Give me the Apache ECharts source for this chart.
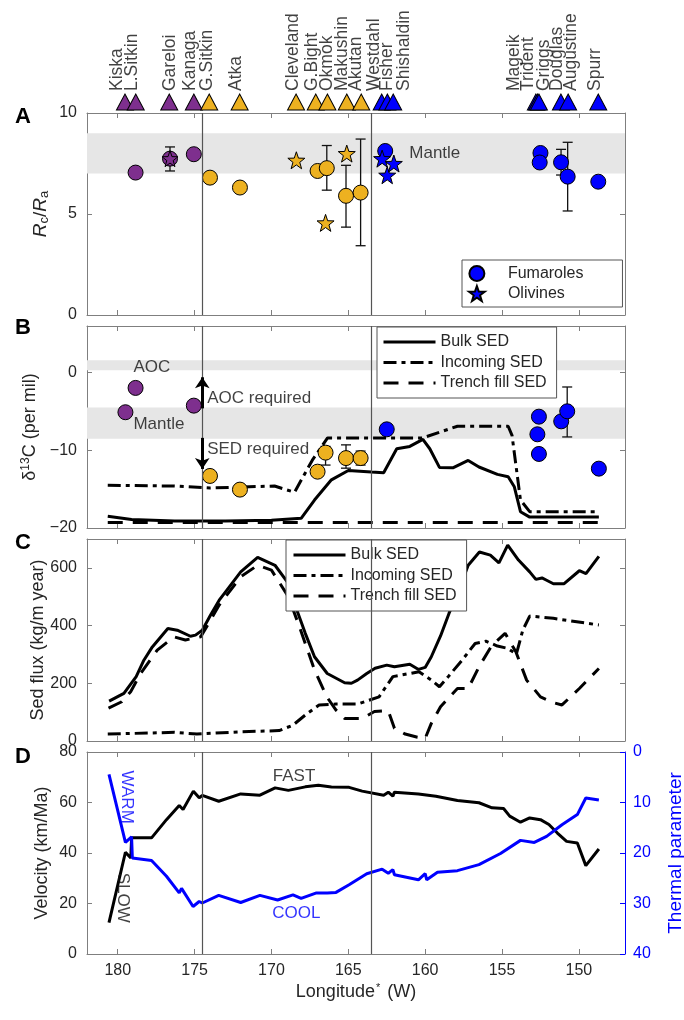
<!DOCTYPE html>
<html><head><meta charset="utf-8">
<script src="https://cdn.jsdelivr.net/npm/echarts@6/dist/echarts.min.js"></script>
<style>html,body{margin:0;padding:0;background:#fff}#c{width:684px;height:1020px}</style>
</head><body><div id="c"></div>
<script>
// ---------------- DATA ----------------
const xTicks = [150, 155, 160, 165, 170, 175, 180];
const dividerLon = [174.5, 163.5];

const volcanoNames = ['Kiska','L.Sitkin','Gareloi','Kanaga','G.Sitkin','Atka','Cleveland','G.Bight','Okmok','Makushin','Akutan','Westdahl','Fisher','Shishaldin','Mageik','Trident','Griggs','Douglas','Augustine','Spurr'];
const volcanoLon = [179.53,178.83,176.65,175.05,174.05,172.07,168.4,167.12,166.36,165.1,164.16,162.83,162.46,162.08,152.8,152.7,152.6,151.17,150.7,148.74];
const volcanoLabelLon = [180.02,179.05,176.56,175.27,174.18,172.24,168.57,167.31,166.36,165.39,164.46,163.27,162.41,161.32,154.19,153.28,152.24,151.38,150.45,148.94];
const volcanoGroup = ['W','W','W','W','C','C','C','C','C','C','C','E','E','E','E','E','E','E','E','E'];

// Panel A  (Rc/Ra)
const aPurpleCircles = [[178.84,7.05],[176.6,7.74],[175.05,7.96]];
const aPurpleStars = [[176.6,7.74]];
const aOrangeCircles = [[174.0,6.8],[172.05,6.31],[167.0,7.13],[166.4,7.27],[165.15,5.9],[164.2,6.06]];
const aOrangeStars = [[168.38,7.66],[166.48,4.56],[165.1,7.99]];
const aBlueCircles = [[162.6,8.12],[152.5,8.02],[152.55,7.55],[151.16,7.56],[150.73,6.85],[148.74,6.6]];
const aBlueStars = [[162.8,7.74],[162.47,6.92],[162.04,7.5]];
const aErrors = [[176.6,7.13,8.32],[166.4,6.18,8.39],[165.15,4.35,7.41],[164.2,3.43,8.71],[151.16,6.93,8.2],[150.73,5.15,8.55]];
const aBands = [[7,9]];
const aTexts = [['Mantle',161.0,7.99]];

// Panel B  (d13C)
const bPurpleCircles = [[178.84,-1.97],[179.5,-5.1],[175.05,-4.25]];
const bOrangeCircles = [[174.0,-13.3],[172.05,-15.06],[167.0,-12.75],[166.48,-10.3],[165.15,-11.0],[164.2,-11.0]];
const bBlueCircles = [[162.5,-7.3],[152.6,-5.67],[152.7,-7.94],[152.6,-10.47],[151.15,-6.27],[150.76,-4.98],[148.7,-12.36]];
const bErrors = [[166.48,-11.9,-9.5],[165.15,-12.3,-9.3],[164.2,-11.9,-10.1],[150.76,-8.28,-1.85]];
const bBands = [[0.3,1.6],[-8.5,-4.5]];
const bBulk = [[180.65,-18.5],[179.1,-18.9],[176.3,-19.1],[173,-19.1],[170,-19.0],[168.07,-18.75],[167.2,-16.4],[166.1,-13.8],[165.0,-12.6],[163.5,-12.8],[162.7,-12.9],[161.85,-9.8],[161.0,-9.5],[160.15,-8.6],[159.7,-9.8],[159.07,-12.2],[158.2,-12.25],[157.2,-11.3],[156.5,-12.15],[155.3,-13.1],[154.6,-13.4],[154.2,-14.7],[153.8,-17.9],[153.2,-18.6],[148.7,-18.6]];
const bIncoming = [[180.65,-14.5],[176.3,-14.6],[174.0,-14.85],[169.8,-14.6],[168.5,-15.4],[167.35,-11.3],[166.35,-8.4],[163.5,-8.4],[160.15,-8.4],[157.9,-6.9],[154.6,-6.9],[154.35,-8.07],[153.8,-16.4],[153.2,-17.9],[148.7,-17.9]];
const bTrench = [[180.65,-19.3],[148.7,-19.3]];
const bTexts = [['AOC',178.95,0.6],['Mantle',178.95,-6.7],['AOC required',174.15,-3.43],['SED required',174.15,-10.0]];
const bArrows = [[174.5,-4.6,-0.6],[174.5,-8.4,-12.4]];

// Panel C  (Sed flux)
const cBulk = [[180.56,138],[179.6,165],[178.8,223],[178.3,280],[177.75,326],[176.74,390],[176.13,384],[175.27,363],[174.94,367],[174.5,384],[173.97,436],[173.4,488],[172.9,523],[172.0,586],[170.9,636],[169.77,609],[168.9,546],[168.35,454],[167.8,373],[167.2,292],[166.37,234],[165.24,202],[164.8,200],[164.4,211],[163.8,234],[163.26,252],[162.5,263],[162.0,257],[161.0,266],[160.43,248],[160.0,255],[159.6,292],[159.0,364],[158.45,442],[157.9,511],[157.2,609],[156.47,655],[155.76,644],[155.2,617],[154.63,679],[153.93,627],[153.2,586],[152.8,560],[152.4,565],[152.1,557],[151.66,545],[150.96,545],[149.97,590],[149.54,580],[148.7,640]];
const cIncoming = [[180.65,24],[176.3,30],[174.85,24],[172.0,32],[169.5,36],[168.6,55],[167.8,90],[166.9,125],[165.8,128],[164.4,128],[163.0,153],[162.1,223],[161.0,234],[160.4,240],[159.6,211],[159.07,188],[158.5,223],[157.6,280],[156.75,338],[156.05,346],[155.3,329],[154.63,321],[154.07,301],[153.65,384],[153.2,433],[151.66,425],[148.7,402]];
const cTrench = [[180.6,114],[179.74,136],[179.16,171],[178.5,235],[177.43,315],[176.35,361],[175.6,350],[174.6,361],[173.4,471],[172.0,569],[170.9,609],[170.0,592],[168.9,500],[168.1,384],[167.2,246],[166.4,153],[165.8,107],[165.24,78],[164.1,78],[163.3,102],[162.4,105],[162.0,44],[161.3,24],[160.5,13],[160.0,9],[159.6,61],[159.0,119],[157.9,182],[157.2,182],[156.5,257],[155.65,332],[154.8,373],[154.1,309],[153.4,211],[152.5,153],[151.66,133],[151.1,125],[149.97,182],[148.7,251]];

// Panel D  (velocity / thermal parameter)
const dVelocity = [[180.57,12.4],[179.5,40.3],[179.15,38],[179.1,46],[177.8,46],[176.83,53.2],[176.0,58.8],[175.75,57.2],[175.08,64.5],[174.7,61.9],[174.5,62.8],[173.43,60.5],[172.0,63.4],[170.75,62.9],[169.76,65.8],[168.9,64.8],[167.8,66.2],[166.95,66.8],[166.1,66.1],[164.95,66.0],[164.1,64.5],[162.7,62.9],[162.4,64.1],[162.1,62.5],[162.0,64.1],[160.44,63.4],[159.3,62.5],[157.9,60.8],[156.5,59.9],[155.65,57.9],[154.9,57.6],[154.5,54.6],[153.8,52.2],[153.2,53.9],[152.5,53.2],[151.95,51.3],[151.4,47.9],[150.8,44.6],[150.1,44.0],[149.55,35.0],[148.7,41.6]];
const dThermal = [[180.57,4.44],[179.5,17.9],[179.1,16.8],[179.05,21.0],[177.8,21.5],[176.83,24.6],[176.0,27.9],[175.85,27.0],[175.1,30.6],[174.7,29.6],[174.5,29.9],[173.43,28.4],[172.0,29.8],[170.75,28.4],[169.6,29.3],[168.6,28.3],[168.07,29.0],[167.07,27.9],[166.37,27.9],[165.8,27.8],[164.95,26.3],[163.8,24.1],[162.8,23.2],[162.4,24.0],[162.1,23.3],[162.0,24.3],[160.44,25.3],[160.0,24.1],[159.9,25.3],[159.2,23.8],[157.9,23.5],[156.5,22.3],[155.1,20.1],[153.8,17.5],[152.9,17.9],[152.1,16.7],[151.1,14.4],[150.1,12.4],[149.55,9.1],[148.7,9.5]];
const dTextsBlack = [['FAST',168.5,70.1]];
const dTextsBlue = [['COOL',168.35,15.9]];
const dRotBlue = [['WARM',179.38,61.9]];
const dRotBlack = [['SLOW',179.66,22.1]];

// ---------------- CHART ----------------
const FONT = "'Liberation Sans', Arial, Helvetica, sans-serif";
const AX = '#7f7f7f', TXT = '#262626';
const PURPLE = '#7E2F8E', ORANGE = '#EDB120', BLUE = '#0000FF';
const GROUPCOL = {W: PURPLE, C: ORANGE, E: BLUE};
const STAR = 'path://M0,-10L2.35,-3.24L9.51,-3.09L3.8,1.24L5.88,8.09L0,4L-5.88,8.09L-3.8,1.24L-9.51,-3.09L-2.35,-3.24Z';
const tops = [113, 326, 539, 752];
const grids = tops.map(t => ({left: 87, width: 538, top: t, height: 202, outerBoundsMode: 'none', containLabel: false}));
grids.push({left: 87, width: 538, top: 60, height: 52, outerBoundsMode: 'none', containLabel: false});

const fmtMinus = v => v < 0 ? '\u2212' + Math.abs(v) : String(v);

function xAx(g, pos, labels) {
  const o = {
    type: 'value', gridIndex: g, position: pos, min: 147, max: 182, inverse: true,
    axisLine: {show: true, onZero: false, lineStyle: {color: AX, width: 1}},
    axisTick: {show: true, inside: true, length: 5, customValues: xTicks, lineStyle: {color: AX}},
    axisLabel: {show: labels, customValues: xTicks, fontSize: 16, color: TXT, fontFamily: FONT, margin: 9},
    splitLine: {show: false}
  };
  if (labels) {
    o.name = '{n|Longitude}{s|*}{n| (W)}';
    o.nameLocation = 'middle';
    o.nameGap = 28;
    o.nameTextStyle = {fontFamily: FONT, color: TXT, rich: {n: {fontSize: 18, fontFamily: FONT, color: TXT}, s: {fontSize: 11, fontFamily: FONT, color: TXT, padding: [0, 2, 10, 1]}}};
  }
  return o;
}
const xAxes = [];
for (let g = 0; g < 4; g++) { xAxes.push(xAx(g, 'bottom', g === 3)); xAxes.push(xAx(g, 'top', false)); }
xAxes.push({type: 'value', gridIndex: 4, min: 147, max: 182, inverse: true, show: false});

function yAx(g, pos, min, max, interval, o) {
  o = o || {};
  const col = o.color || AX;
  const a = {
    type: 'value', gridIndex: g, position: pos, min, max, interval, inverse: !!o.inverse,
    axisLine: {show: true, onZero: false, lineStyle: {color: col, width: 1}},
    axisTick: {show: true, inside: true, length: 5, lineStyle: {color: col}},
    axisLabel: {show: !!o.labels, fontSize: 16, color: o.labelColor || TXT, fontFamily: FONT, margin: o.margin || 10, formatter: fmtMinus, showMaxLabel: o.hideMax ? false : null},
    splitLine: {show: false}
  };
  if (o.name) {
    a.name = o.name; a.nameLocation = 'middle'; a.nameGap = o.nameGap; a.nameRotate = 90;
    a.nameMoveOverlap = false;
    a.nameTextStyle = Object.assign({fontSize: 18, fontFamily: FONT, color: o.labelColor || TXT}, o.nameStyle || {});
  }
  return a;
}
const yAxes = [
  yAx(0, 'left', 0, 10, 5, {labels: true, name: '{i|R}{s|c}{n|/}{i|R}{s|a}', nameGap: 36,
    nameStyle: {rich: {i: {fontSize: 19, fontStyle: 'italic', fontFamily: FONT, color: TXT}, n: {fontSize: 19, fontFamily: FONT, color: TXT}, s: {fontSize: 13, fontFamily: FONT, color: TXT, padding: [8, 0, 0, 0]}}}}),
  yAx(0, 'right', 0, 10, 5),
  yAx(1, 'left', -20, 6, 10, {labels: true, hideMax: true, name: '{n|\u03b4}{s|13}{n|C (per mil)}', nameGap: 46,
    nameStyle: {rich: {n: {fontSize: 18, fontFamily: FONT, color: TXT}, s: {fontSize: 12, fontFamily: FONT, color: TXT, padding: [0, 0, 9, 0]}}}}),
  yAx(1, 'right', -20, 6, 10),
  yAx(2, 'left', 0, 700, 200, {labels: true, hideMax: true, name: 'Sed flux (kg/m year)', nameGap: 40}),
  yAx(2, 'right', 0, 700, 200),
  yAx(3, 'left', 0, 80, 20, {labels: true, name: 'Velocity (km/Ma)', nameGap: 36}),
  yAx(3, 'right', 0, 40, 10, {labels: true, inverse: true, color: BLUE, labelColor: BLUE, margin: 8, name: 'Thermal parameter', nameGap: 41, nameStyle: {fontSize: 19}}),
  {type: 'value', gridIndex: 4, min: 0, max: 52, show: false}
];

const series = [];
const base = {animation: false, silent: true};

function deco(g, bands) {
  return Object.assign({type: 'line', xAxisIndex: 2 * g, yAxisIndex: 2 * g, data: [], z: 1,
    markArea: {silent: true, itemStyle: {color: '#e6e6e6'}, data: bands.map(b => [{yAxis: b[0]}, {yAxis: b[1]}])},
    markLine: {silent: true, symbol: 'none', label: {show: false}, lineStyle: {color: '#555', width: 1.2, type: 'solid'}, data: dividerLon.map(v => ({xAxis: v}))}
  }, base);
}
function sc(g, data, symbol, color, size, name) {
  return Object.assign({type: 'scatter', name: name || undefined, xAxisIndex: 2 * g, yAxisIndex: 2 * g, data, symbol, symbolSize: size,
    itemStyle: {color, borderColor: '#000', borderWidth: 1, opacity: 1}, z: symbol === 'circle' ? 4 : 5}, base);
}
function ln(g, name, data, type, color, yIdx) {
  return Object.assign({type: 'line', name, xAxisIndex: 2 * g, yAxisIndex: yIdx != null ? yIdx : 2 * g, data, symbol: 'none', showSymbol: false,
    lineStyle: {width: 3, color, type}, itemStyle: {color}, z: 3}, base);
}
function eb(g, data) {
  return Object.assign({type: 'custom', xAxisIndex: 2 * g, yAxisIndex: 2 * g, data, z: 3, encode: {x: 0, y: [1, 2]},
    renderItem: (p, api) => {
      const x = api.value(0), lo = api.value(1), hi = api.value(2);
      const a = api.coord([x, hi]), b = api.coord([x, lo]);
      const w = 5, st = {stroke: '#111', lineWidth: 1.3};
      return {type: 'group', children: [
        {type: 'line', shape: {x1: a[0], y1: a[1], x2: b[0], y2: b[1]}, style: st},
        {type: 'line', shape: {x1: a[0] - w, y1: a[1], x2: a[0] + w, y2: a[1]}, style: st},
        {type: 'line', shape: {x1: b[0] - w, y1: b[1], x2: b[0] + w, y2: b[1]}, style: st}
      ]};
    }}, base);
}
function tx(xi, yi, items, labelOpts) {
  return Object.assign({type: 'scatter', xAxisIndex: xi, yAxisIndex: yi, symbolSize: 1, itemStyle: {color: 'rgba(0,0,0,0)'}, z: 6,
    data: items.map(t => ({name: t[0], value: [t[1], t[2]]})),
    label: Object.assign({show: true, formatter: '{b}', position: [0, 0], align: 'left', verticalAlign: 'middle', fontSize: 17, fontFamily: FONT, color: '#111'}, labelOpts || {})
  }, base);
}

// volcano triangles and names
series.push(Object.assign({type: 'scatter', xAxisIndex: 8, yAxisIndex: 8, symbol: 'triangle', symbolSize: [17, 16], z: 4,
  data: volcanoLon.map((lon, i) => ({value: [lon, 10], itemStyle: {color: GROUPCOL[volcanoGroup[i]], borderColor: '#000', borderWidth: 1, opacity: 1}}))}, base));
series.push(tx(8, 8, volcanoNames.map((n, i) => [n, volcanoLabelLon[i], 20.5]), {rotate: 90, fontSize: 17.5}));

// Panel A
series.push(deco(0, aBands));
series.push(eb(0, aErrors));
series.push(sc(0, aPurpleCircles, 'circle', PURPLE, 15));
series.push(sc(0, aOrangeCircles, 'circle', ORANGE, 15));
series.push(sc(0, aBlueCircles, 'circle', BLUE, 15, 'Fumaroles'));
series.push(sc(0, aPurpleStars, STAR, PURPLE, 16));
series.push(sc(0, aOrangeStars, STAR, ORANGE, 17));
series.push(sc(0, aBlueStars, STAR, BLUE, 17, 'Olivines'));
series.push(tx(0, 0, aTexts));

// Panel B
series.push(deco(1, bBands));
series.push(ln(1, 'Trench fill SED', bTrench, [15, 10], '#000'));
series.push(ln(1, 'Incoming SED', bIncoming, [13, 5, 4, 5], '#000'));
series.push(ln(1, 'Bulk SED', bBulk, 'solid', '#000'));
series.push(eb(1, bErrors));
series.push(sc(1, bPurpleCircles, 'circle', PURPLE, 15));
series.push(sc(1, bOrangeCircles, 'circle', ORANGE, 15));
series.push(sc(1, bBlueCircles, 'circle', BLUE, 15));
series.push(tx(2, 2, bTexts));
series.push(Object.assign({type: 'line', xAxisIndex: 2, yAxisIndex: 2, data: [], z: 5,
  markLine: {silent: true, symbol: ['none', 'arrow'], symbolSize: [11, 11], label: {show: false}, lineStyle: {color: '#000', width: 3, type: 'solid'},
    data: bArrows.map(a => [{coord: [a[0], a[1]]}, {coord: [a[0], a[2]]}])}}, base));

// Panel C
series.push(deco(2, []));
series.push(ln(2, 'Trench fill SED', cTrench, [15, 10], '#000'));
series.push(ln(2, 'Incoming SED', cIncoming, [13, 5, 4, 5], '#000'));
series.push(ln(2, 'Bulk SED', cBulk, 'solid', '#000'));

// Panel D
series.push(deco(3, []));
series.push(ln(3, 'Velocity', dVelocity, 'solid', '#000'));
series.push(ln(3, 'Thermal', dThermal, 'solid', BLUE, 7));
series.push(tx(6, 6, dTextsBlack, {align: 'center'}));
series.push(tx(6, 6, dTextsBlue, {align: 'center', color: BLUE}));
series.push(tx(6, 6, dRotBlue, {align: 'center', rotate: -90, color: BLUE}));
series.push(tx(6, 6, dRotBlack, {align: 'center', rotate: -90}));

const legendBase = {orient: 'vertical', selectedMode: false, borderColor: '#555', borderWidth: 1, backgroundColor: '#fff',
  itemWidth: 52, itemHeight: 14, itemGap: 0.5, itemStyle: {opacity: 0}, lineStyle: {width: 3},
  textStyle: {fontSize: 16, fontFamily: FONT, color: TXT, lineHeight: 20}};
const legends = [
  Object.assign({}, legendBase, {data: ['Fumaroles', 'Olivines'], left: 462, top: 260, padding: [4, 39, 4, 6], itemHeight: 15, itemGap: 1,
    itemStyle: {opacity: 1}, textStyle: {fontSize: 16, fontFamily: FONT, color: TXT, lineHeight: 19}}),
  Object.assign({}, legendBase, {data: ['Bulk SED', 'Incoming SED', 'Trench fill SED'], left: 377, top: 327, padding: [5, 10, 5, 5]}),
  Object.assign({}, legendBase, {data: ['Bulk SED', 'Incoming SED', 'Trench fill SED'], left: 286, top: 540, padding: [5, 10, 5, 6]})
];

const titles = ['A', 'B', 'C', 'D'].map((t, i) => ({text: t, left: 10, top: [101, 312, 527, 741][i], textStyle: {fontSize: 22, fontWeight: 'bold', color: '#000', fontFamily: FONT}}));

const chart = echarts.init(document.getElementById('c'), null, {renderer: 'canvas'});
chart.setOption({
  animation: false, backgroundColor: '#fff',
  title: titles, grid: grids, xAxis: xAxes, yAxis: yAxes, legend: legends, series
});
</script></body></html>
